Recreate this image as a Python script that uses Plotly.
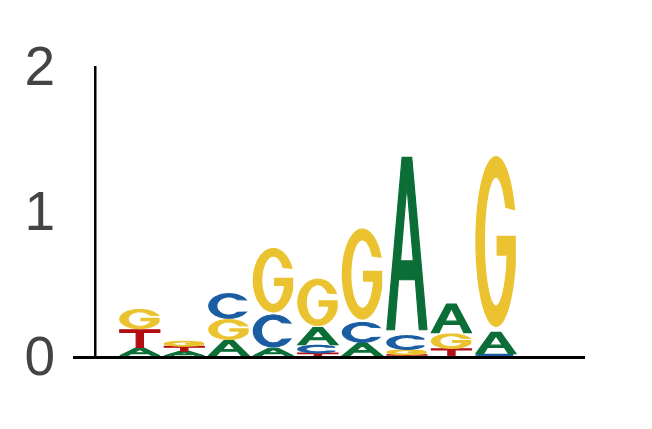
import math
import plotly.graph_objects as go

# ---- data (bits per letter at each position) ----
positions = [1, 2, 3, 4, 5, 6, 7, 8, 9]
A_vals = [0.055, 0.033, 0.11, 0.055, 0.125, 0.09, 1.265, 0.21, 0.155]
C_vals = [0.0, 0.0, 0.18, 0.235, 0.055, 0.145, 0.10, 0.0, 0.012]
G_vals = [0.14, 0.035, 0.145, 0.465, 0.34, 0.66, 0.035, 0.105, 1.245]
T_vals = [0.13, 0.034, 0.0, 0.0, 0.02, 0.0, 0.008, 0.05, 0.0]
y_ticks = [0, 1, 2]

COLORS = {"A": "#0b6e37", "C": "#1b5da2", "G": "#ebc331", "T": "#b30f10"}
LETTER_W = 0.9
VPAD = 0.03


# ---- glyph outlines in a unit box ----
def ell(cx, cy, rx, ry, a0, a1, n=60):
    pts = []
    for k in range(n + 1):
        t = math.radians(a0 + (a1 - a0) * k / n)
        pts.append((cx + rx * math.cos(t), cy + ry * math.sin(t)))
    return pts


def glyph(letter):
    if letter == "A":
        outer = [(0, 0), (0.38, 1), (0.62, 1), (1, 0), (0.81, 0), (0.71, 0.29),
                 (0.29, 0.29), (0.19, 0)]
        hole = [(0.34, 0.40), (0.66, 0.40), (0.5, 0.84)]
        return [outer, hole]
    if letter == "T":
        return [[(0, 1), (1, 1), (1, 0.85), (0.59, 0.85), (0.59, 0), (0.41, 0),
                 (0.41, 0.85), (0, 0.85)]]
    if letter == "C":
        o = ell(0.5, 0.5, 0.5, 0.5, 30, 330)
        i = ell(0.5, 0.5, 0.3, 0.37, 315, 45)
        return [o + i]
    if letter == "G":
        o = ell(0.5, 0.5, 0.5, 0.5, 22, 344)
        i = ell(0.5, 0.5, 0.29, 0.38, 337, 32)
        pts = o + [(0.98, 0.36), (0.98, 0.53), (0.53, 0.53), (0.53, 0.42),
                   (0.78, 0.42)] + i
        return [pts]
    return []


def path_for(letter, xc, y0, h):
    w = LETTER_W
    pad = VPAD * h
    hh = h - 2 * pad
    parts = []
    for poly in glyph(letter):
        seg = []
        for j, (gx, gy) in enumerate(poly):
            X = xc - w / 2 + gx * w
            Y = y0 + pad + gy * hh
            seg.append(("M" if j == 0 else "L") + f"{X:.4f},{Y:.5f}")
        parts.append(" ".join(seg) + " Z")
    return " ".join(parts)


shapes = []
for idx, pos in enumerate(positions):
    col = {"A": A_vals[idx], "C": C_vals[idx], "G": G_vals[idx], "T": T_vals[idx]}
    order = sorted([k for k in col if col[k] > 0], key=lambda k: col[k])
    base = 0.0
    for letter in order:
        h = col[letter]
        shapes.append(dict(type="path", xref="x", yref="y",
                           path=path_for(letter, pos, base, h),
                           fillcolor=COLORS[letter],
                           line=dict(width=1.2, color=COLORS[letter]),
                           layer="above"))
        base += h

# y-axis spine at x = 0
shapes.append(dict(type="line", xref="x", yref="y", x0=0, x1=0, y0=0, y1=2,
                   line=dict(color="black", width=2.5)))

fig = go.Figure()
fig.add_trace(go.Scatter(x=[], y=[], showlegend=False))
fig.update_layout(
    width=652, height=429,
    margin=dict(l=65, r=75, t=58, b=81),
    paper_bgcolor="white", plot_bgcolor="white",
    shapes=shapes,
    showlegend=False,
    font=dict(family="Liberation Sans, Arial, sans-serif"),
)
fig.update_xaxes(range=[-0.5, 11], showgrid=False, zeroline=False,
                 showticklabels=False, ticks="", showline=True,
                 linecolor="black", linewidth=2.5, mirror=False)
fig.update_yaxes(range=[0, 2], showgrid=False, zeroline=False, showline=False,
                 tickvals=y_ticks, ticktext=[str(v) for v in y_ticks],
                 ticks="", ticklabelstandoff=17,
                 tickfont=dict(size=55, color="#444444",
                               family="Liberation Sans, Arial, sans-serif"))
fig.write_html("out.html")
